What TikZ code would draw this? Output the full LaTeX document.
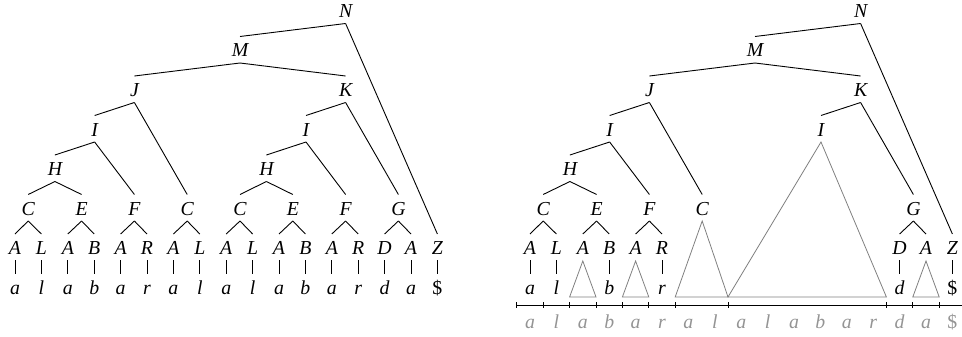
\documentclass[tikz,border=0pt]{standalone}
\usepackage{fontspec}
\setmainfont{Liberation Serif}
\newfontfamily\treefont{Liberation Serif}
\newcommand\treesize{\fontsize{19.8}{24}\selectfont}
\tikzset{
  lbl/.style={font=\treefont\treesize\itshape, anchor=base, inner sep=0pt},
  glbl/.style={lbl, text=black!42},
  edge/.style={line width=0.9pt},
  tri/.style={line width=0.8pt, draw=black!50},
  axisline/.style={line width=0.9pt}
}
\begin{document}
\begin{tikzpicture}[x=1pt,y=-1pt]
\useasboundingbox (0,0) rectangle (962,337);

% ---------- left tree: the full derivation ----------
\node[lbl] (lN)  at (345.6,17.5)  {N};
\node[lbl] (lM)  at (240,57)      {M};
\node[lbl] (lJ)  at (134.4,96.5)  {J};
\node[lbl] (lK)  at (345.6,96.5)  {K};
\node[lbl] (lI1) at (94.65,136)   {I};
\node[lbl] (lI2) at (306,136)     {I};
\node[lbl] (lH1) at (54.9,175.5)  {H};
\node[lbl] (lH2) at (266.4,175.5) {H};
\node[lbl] (lC1) at (28.2,215)    {C};
\node[lbl] (lE1) at (81.6,215)    {E};
\node[lbl] (lF1) at (134.4,215)   {F};
\node[lbl] (lC2) at (187.2,215)   {C};
\node[lbl] (lC3) at (240,215)     {C};
\node[lbl] (lE2) at (292.8,215)   {E};
\node[lbl] (lF2) at (345.6,215)   {F};
\node[lbl] (lG)  at (398.4,215)   {G};
\foreach \t [count=\i from 0] in {A,L,A,B,A,R,A,L,A,L,A,B,A,R,D,A,Z}
  \node[lbl] (l\i) at ({15+26.4*\i},254.5) {\t};
\foreach \t [count=\i from 0] in {a,l,a,b,a,r,a,l,a,l,a,b,a,r,d,a,{\textup{\$}}}
  \node[lbl] (lw\i) at ({15+26.4*\i},294.5) {\t};

\foreach \p/\c in {lN/lM, lN/l16, lM/lJ, lM/lK, lJ/lI1, lJ/lC2, lI1/lH1, lI1/lF1,
    lH1/lC1, lH1/lE1, lC1/l0, lC1/l1, lE1/l2, lE1/l3, lF1/l4, lF1/l5, lC2/l6, lC2/l7,
    lK/lI2, lK/lG, lI2/lH2, lI2/lF2, lH2/lC3, lH2/lE2, lC3/l8, lC3/l9, lE2/l10, lE2/l11,
    lF2/l12, lF2/l13, lG/l14, lG/l15}
  \draw[edge] ([yshift=-6pt]\p.base) -- ([yshift=20.5pt]\c.base);
\foreach \i in {0,...,16}
  \draw[edge] ([yshift=-5.5pt]l\i.base) -- ([yshift=21pt]lw\i.base);

% ---------- right tree: repeated parts collapsed ----------
\node[lbl] (rN)  at (860.6,17.5)  {N};
\node[lbl] (rM)  at (755,57)      {M};
\node[lbl] (rJ)  at (649.4,96.5)  {J};
\node[lbl] (rK)  at (860.6,96.5)  {K};
\node[lbl] (rI1) at (609.65,136)  {I};
\node[lbl] (rI2) at (821,136)     {I};
\node[lbl] (rH1) at (569.9,175.5) {H};
\node[lbl] (rC1) at (543.2,215)   {C};
\node[lbl] (rE1) at (596.6,215)   {E};
\node[lbl] (rF1) at (649.4,215)   {F};
\node[lbl] (rC2) at (702.2,215)   {C};
\node[lbl] (rG)  at (913.4,215)   {G};
\foreach \i/\t in {0/A,1/L,2/A,3/B,4/A,5/R,14/D,15/A,16/Z}
  \node[lbl] (r\i) at ({530+26.4*\i},254.5) {\t};
\foreach \i/\t in {0/a,1/l,3/b,5/r,14/d,16/{\textup{\$}}}
  \node[lbl] (rw\i) at ({530+26.4*\i},294.5) {\t};

\foreach \p/\c in {rN/rM, rN/r16, rM/rJ, rM/rK, rJ/rI1, rJ/rC2, rI1/rH1, rI1/rF1,
    rH1/rC1, rH1/rE1, rC1/r0, rC1/r1, rE1/r2, rE1/r3, rF1/r4, rF1/r5,
    rK/rI2, rK/rG, rG/r14, rG/r15}
  \draw[edge] ([yshift=-6pt]\p.base) -- ([yshift=20.5pt]\c.base);
\foreach \i in {0,1,3,5,14,16}
  \draw[edge] ([yshift=-5.5pt]r\i.base) -- ([yshift=21pt]rw\i.base);

% triangle base corners and axis ticks
\foreach \i in {0,...,17} {
  \coordinate (k\i) at ({530+26.4*(\i-0.5)},297);
  \coordinate (a\i) at ({530+26.4*(\i-0.5)},305);
}
\coordinate (axEnd) at (962,305);

% collapsed subtrees
\draw[tri] ([yshift=-6.5pt]r2.base) -- (k2) -- (k3) -- cycle;
\draw[tri] ([yshift=-6.5pt]r4.base) -- (k4) -- (k5) -- cycle;
\draw[tri] ([yshift=-6.5pt]r15.base) -- (k15) -- (k16) -- cycle;
\draw[tri] ([yshift=-6pt]rC2.base) -- (k6) -- (k8) -- cycle;
\draw[tri] ([yshift=-6pt]rI2.base) -- (k8) -- (k14) -- cycle;

% string axis
\draw[axisline] (a0) -- (axEnd);
\foreach \i in {0,1,2,3,4,5,6,8,14,15,16}
  \draw[axisline] ([yshift=2.6pt]a\i) -- ([yshift=-2.6pt]a\i);

\foreach \t [count=\i from 0] in {a,l,a,b,a,r,a,l,a,l,a,b,a,r,d,a,{\textup{\$}}}
  \node[glbl] (g\i) at ({530+26.4*\i},328) {\t};
\end{tikzpicture}
\end{document}
